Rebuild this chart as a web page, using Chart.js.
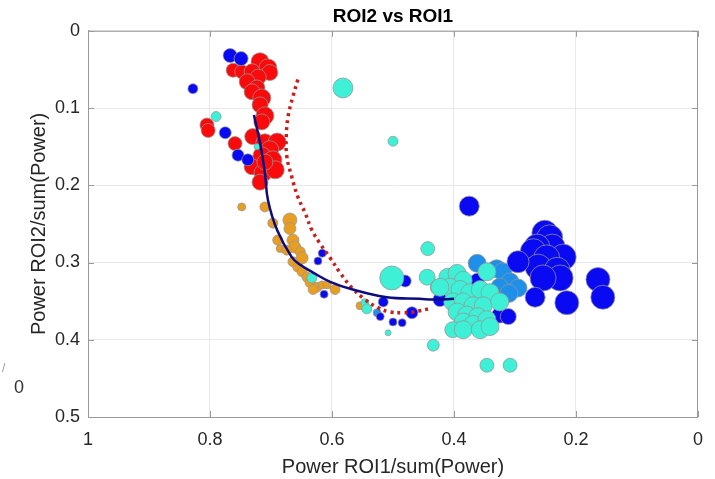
<!DOCTYPE html>
<html lang="en">
<head>
  <meta charset="UTF-8" />
  <title>ROI2 vs ROI1</title>
  <script src="https://cdn.jsdelivr.net/npm/chart.js"></script>
  <style>
    body { margin: 0; background: #fff; }
    canvas { display: block; }
  </style>
</head>
<body>
  <canvas id="roiChart" width="715" height="479"></canvas>
  <script>
    // each point: [ROI1 share, ROI2 share, marker radius]
    const redPts = [
      [0.718,0.040,9],[0.705,0.048,9],[0.702,0.054,8],[0.762,0.051,7],[0.748,0.053,7],[0.731,0.053,8],
      [0.721,0.060,8],[0.739,0.066,8],[0.723,0.074,8],[0.731,0.079,8],[0.715,0.087,9],[0.718,0.096,8],
      [0.710,0.110,9],[0.715,0.118,8],[0.805,0.122,7],[0.803,0.129,7],[0.759,0.146,7],[0.730,0.137,8],
      [0.710,0.145,9],[0.690,0.144,9],[0.702,0.154,9],[0.715,0.162,9],[0.731,0.176,8],[0.697,0.167,9],
      [0.713,0.184,9],[0.693,0.180,9],[0.718,0.196,8],[0.710,0.170,8]
    ];
    const orangePts = [
      [0.748,0.228,4],[0.710,0.228,5],[0.697,0.249,5],[0.669,0.245,7],[0.669,0.256,6],[0.689,0.271,5],
      [0.664,0.271,6],[0.661,0.280,6],[0.652,0.286,5],[0.685,0.282,4],[0.674,0.284,5],[0.649,0.294,6],
      [0.664,0.299,5],[0.656,0.306,5],[0.649,0.312,5],[0.641,0.319,5],[0.636,0.326,5],[0.625,0.332,5],
      [0.616,0.329,4],[0.608,0.329,4],[0.595,0.335,5],[0.631,0.335,5],[0.554,0.356,4]
    ];
    const bluePts = [
      [0.828,0.075,5],[0.767,0.032,7],[0.749,0.036,7],[0.775,0.132,6],[0.754,0.161,6],[0.738,0.167,6],
      [0.616,0.288,4],[0.623,0.298,4],[0.613,0.341,4],[0.516,0.351,5],[0.480,0.324,6],[0.469,0.365,6],
      [0.521,0.370,4],[0.500,0.377,4],[0.485,0.378,4],[0.375,0.227,10],[0.362,0.323,7],[0.423,0.348,7],
      [0.325,0.368,8],[0.311,0.370,8],[0.385,0.358,7],[0.251,0.262,13],[0.243,0.268,13],[0.239,0.280,13],
      [0.264,0.280,13],[0.221,0.293,13],[0.270,0.286,13],[0.248,0.294,13],[0.262,0.306,13],[0.231,0.310,13],
      [0.226,0.320,13],[0.254,0.320,13],[0.295,0.299,11],[0.267,0.345,10],[0.215,0.352,12],[0.164,0.322,12],
      [0.156,0.345,12]
    ];
    const skyPts = [
      [0.362,0.301,9],[0.330,0.308,9],[0.320,0.312,9],[0.308,0.325,9],[0.295,0.333,9],[0.325,0.332,9],
      [0.310,0.340,9],[0.526,0.365,4],[0.340,0.345,8]
    ];
    const cyanPts = [
      [0.790,0.111,5],[0.723,0.150,3],[0.582,0.074,10],[0.500,0.143,5],[0.443,0.282,7],[0.502,0.320,12],
      [0.633,0.320,5],[0.546,0.352,4],[0.543,0.360,5],[0.508,0.391,3],[0.444,0.319,8],[0.426,0.332,8],
      [0.434,0.407,6],[0.346,0.433,7],[0.308,0.433,7],[0.410,0.319,9],[0.395,0.314,9],[0.385,0.323,9],
      [0.346,0.312,9],[0.407,0.332,9],[0.390,0.335,9],[0.374,0.339,9],[0.357,0.335,9],[0.341,0.339,9],
      [0.402,0.351,9],[0.385,0.351,9],[0.369,0.356,9],[0.352,0.356,9],[0.325,0.351,9],[0.395,0.364,9],
      [0.379,0.368,9],[0.361,0.370,9],[0.385,0.377,9],[0.369,0.380,9],[0.346,0.374,9],[0.402,0.387,8],
      [0.385,0.387,9],[0.357,0.387,9],[0.341,0.383,9],[0.423,0.332,9]
    ];

    // fitted curves
    const fitX = [0.728,0.718,0.710,0.705,0.690,0.666,0.652,0.631,0.603,0.566,0.510,0.456,0.434,0.400];
    const fitY = [0.109,0.145,0.184,0.219,0.258,0.293,0.303,0.313,0.325,0.335,0.345,0.347,0.348,0.347];
    const dotX = [0.656,0.664,0.672,0.675,0.674,0.666,0.656,0.644,0.633,0.620,0.603,0.587,0.567,0.549,0.526,0.505,0.484,0.467,0.436];
    const dotY = [0.063,0.085,0.111,0.137,0.163,0.189,0.215,0.236,0.258,0.275,0.294,0.313,0.333,0.346,0.358,0.364,0.365,0.364,0.359];

    const xTicks = [1, 0.8, 0.6, 0.4, 0.2, 0];
    const yTicks = [0, 0.1, 0.2, 0.3, 0.4, 0.5];

    const toBubbles = pts => pts.map(([x, y, r]) => ({ x, y, r }));
    const toLine = (xs, ys) => xs.map((x, i) => ({ x, y: ys[i] }));

    const bubble = (pts, color, order) => ({
      type: 'bubble',
      data: toBubbles(pts),
      backgroundColor: color,
      borderColor: 'rgba(150,150,150,0.75)',
      borderWidth: 1,
      order: order
    });

    // box around the axes with inward ticks, plus stray label at left
    const framePlugin = {
      id: 'frame',
      afterDraw(chart) {
        const { ctx, chartArea: a, scales } = chart;
        ctx.save();
        ctx.strokeStyle = '#9a9a9a';
        ctx.lineWidth = 1;
        ctx.strokeRect(a.left + 0.5, a.top + 0.5, a.right - a.left - 1, a.bottom - a.top);
        ctx.beginPath();
        xTicks.forEach(v => {
          const px = Math.round(scales.x.getPixelForValue(v)) + 0.5;
          ctx.moveTo(px, a.bottom); ctx.lineTo(px, a.bottom - 6);
          ctx.moveTo(px, a.top); ctx.lineTo(px, a.top + 6);
        });
        yTicks.forEach(v => {
          const py = Math.round(scales.y.getPixelForValue(v)) + 0.5;
          ctx.moveTo(a.left, py); ctx.lineTo(a.left + 6, py);
          ctx.moveTo(a.right, py); ctx.lineTo(a.right - 6, py);
        });
        ctx.stroke();
        ctx.fillStyle = '#333';
        ctx.font = '18px "Liberation Sans", Arial, sans-serif';
        ctx.fillText('0', 14, 393);
        ctx.fillStyle = '#999';
        ctx.font = '12px "Liberation Sans", Arial, sans-serif';
        ctx.fillText('/', 2, 372);
        ctx.restore();
      }
    };

    const tickFont = { family: '"Liberation Sans", Arial, sans-serif', size: 18 };
    const labelFont = { family: '"Liberation Sans", Arial, sans-serif', size: 20 };

    new Chart(document.getElementById('roiChart'), {
      type: 'bubble',
      data: {
        datasets: [
          {
            type: 'line',
            data: toLine(fitX, fitY),
            borderColor: '#0c0c80',
            borderWidth: 2.5,
            pointRadius: 0,
            tension: 0.4,
            fill: false,
            order: 0
          },
          {
            type: 'line',
            data: toLine(dotX, dotY),
            borderColor: '#c4201c',
            borderWidth: 3.5,
            borderDash: [3, 4],
            pointRadius: 0,
            tension: 0.4,
            fill: false,
            order: 1
          },
          bubble(cyanPts, '#3ef0d6', 2),
          bubble(bluePts, '#0a0af2', 3),
          bubble(skyPts, '#1e90ea', 4),
          bubble(redPts, '#fa0a0a', 5),
          bubble(orangePts, '#e89e22', 6)
        ]
      },
      options: {
        responsive: false,
        animation: false,
        layout: { padding: { left: 0, right: 17, top: 0, bottom: 0 } },
        plugins: {
          legend: { display: false },
          tooltip: { enabled: false },
          title: {
            display: true,
            text: 'ROI2 vs ROI1',
            fullSize: false,
            color: '#000',
            font: { family: '"Liberation Sans", Arial, sans-serif', size: 19, weight: 'bold' },
            padding: { top: 5, bottom: 3 }
          }
        },
        scales: {
          x: {
            type: 'linear',
            reverse: true,
            min: 0,
            max: 1,
            afterBuildTicks: s => { s.ticks = xTicks.map(v => ({ value: v })); },
            afterFit: s => { s.height = 62; },
            grid: { color: '#e8e8e8', drawTicks: false },
            border: { color: '#9a9a9a' },
            ticks: { padding: 12, color: '#262626', font: tickFont, callback: v => String(v) },
            title: {
              display: true,
              text: 'Power ROI1/sum(Power)',
              color: '#262626',
              font: labelFont,
              padding: { top: 0, bottom: 0 }
            }
          },
          y: {
            type: 'linear',
            reverse: true,
            min: 0,
            max: 0.5,
            afterBuildTicks: s => { s.ticks = yTicks.map(v => ({ value: v })); },
            afterFit: s => { s.width = 88; },
            grid: { color: '#e8e8e8', drawTicks: false },
            border: { color: '#9a9a9a' },
            ticks: { padding: 8, color: '#262626', font: tickFont, callback: v => String(v) },
            title: {
              display: true,
              text: 'Power ROI2/sum(Power)',
              color: '#262626',
              font: labelFont,
              padding: { top: 27, bottom: 0 }
            }
          }
        }
      },
      plugins: [framePlugin]
    });
  </script>
</body>
</html>
